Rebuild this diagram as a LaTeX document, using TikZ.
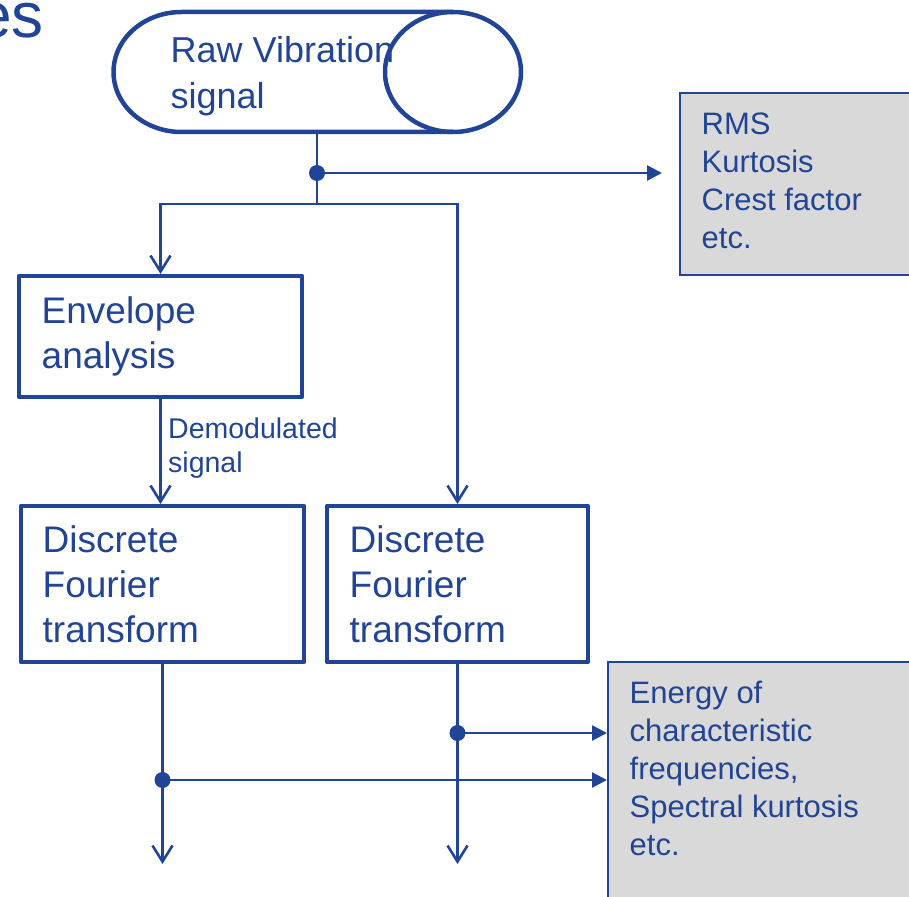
\documentclass[tikz,border=0pt]{standalone}
\usepackage{fontspec}
\setmainfont{Liberation Sans}
\usetikzlibrary{arrows.meta}
\definecolor{flowblue}{RGB}{33,68,150}
\definecolor{panelgray}{RGB}{217,217,217}
\begin{document}
\begin{tikzpicture}[x=1pt,y=-1pt,
  boxframe/.style={draw=flowblue, line width=4.5pt, line join=round, fill=white,
    inner sep=0pt, outer sep=2pt},
  panel/.style={draw=flowblue, line width=2pt, fill=panelgray, inner sep=0pt, outer sep=1pt},
  conn/.style={draw=flowblue, line width=2.6pt},
  openarrow/.style={-{Straight Barb[length=16pt,width=20pt,line width=2.6pt]}},
  filledarrow/.style={-{Triangle[length=15pt,width=15pt]}},
  junction/.style={circle, fill=flowblue, minimum size=16pt, inner sep=0pt},
  % multi-line texts are placed by the baseline of their last line
  boxtext/.style={text=flowblue, font=\fontsize{37}{45}\selectfont, align=left,
    inner sep=0pt, anchor=base west},
  paneltext/.style={text=flowblue, font=\fontsize{31}{38}\selectfont, align=left,
    inner sep=0pt, anchor=base west},
]
\useasboundingbox (0,0) rectangle (909,896);

% heading fragment
\node[text=flowblue, font=\fontsize{64}{70}\selectfont, inner sep=0pt, anchor=base east]
  (heading) at (44,38) {es};

% raw signal drum: body with a half-ellipse on the left and a full end face on the right
\draw[flowblue, line width=4.5pt, line join=round]
  (453,12) -- (181.5,12) arc[start angle=90, end angle=270, x radius=68pt, y radius=60pt]
  -- (453,132);
\draw[flowblue, line width=4.5pt] (453,72) ellipse[x radius=68pt, y radius=60pt];
\node[boxtext, font=\fontsize{36}{45.5}\selectfont] (rawtxt) at (170.5,108.5) {Raw Vibration\\signal};
\coordinate (rawbot) at (317,132);

% process boxes
\node[boxframe, minimum width=283pt, minimum height=121pt] (env) at (160.5,336.5) {};
\node[boxtext] (envtxt) at (41.5,368) {Envelope\\analysis};

\node[boxframe, minimum width=283pt, minimum height=156pt] (dftA) at (162.5,584) {};
\node[boxtext] (dftAtxt) at (42.5,642) {Discrete\\Fourier\\transform};

\node[boxframe, minimum width=261pt, minimum height=156pt] (dftB) at (457.5,584) {};
\node[boxtext] (dftBtxt) at (349.5,642) {Discrete\\Fourier\\transform};

% feature panels
\node[panel, minimum width=260pt, minimum height=182pt] (stats) at (810,184) {};
\node[paneltext] (statstxt) at (701.5,248) {RMS\\Kurtosis\\Crest factor\\etc.};

\node[panel, minimum width=332pt, minimum height=270pt] (spec) at (774,797) {};
\node[paneltext] (spectxt) at (629.5,855)
  {Energy of\\characteristic\\frequencies,\\Spectral kurtosis\\etc.};

% junctions and free ends
\node[junction] (j1) at (317,173) {};
\coordinate (split) at (317,204);
\node[junction] (j2) at (162.5,780) {};
\node[junction] (j3) at (457.5,733) {};
\coordinate (outA) at (162.5,864);
\coordinate (outB) at (457.5,864);

% connectors
\draw[conn] (rawbot) -- (j1.center) -- (split);
\draw[conn, filledarrow] (j1.center) -- ([xshift=-17pt]stats.west |- j1);
\draw[conn, openarrow] (split) -| (env.north);
\draw[conn, openarrow] (split) -| (dftB.north);
\draw[conn, openarrow] (env.south) -- (env.south |- dftA.north);
\node[text=flowblue, font=\fontsize{28.5}{34}\selectfont, align=left, inner sep=0pt,
  anchor=base west] (demod) at (168,472) {Demodulated\\signal};

\draw[conn, openarrow] (dftA.south) -- (outA);
\draw[conn, openarrow] (dftB.south) -- (outB);
\draw[conn, filledarrow] (j2.center) -- (spec.west |- j2);
\draw[conn, filledarrow] (j3.center) -- (spec.west |- j3);
\end{tikzpicture}
\end{document}
